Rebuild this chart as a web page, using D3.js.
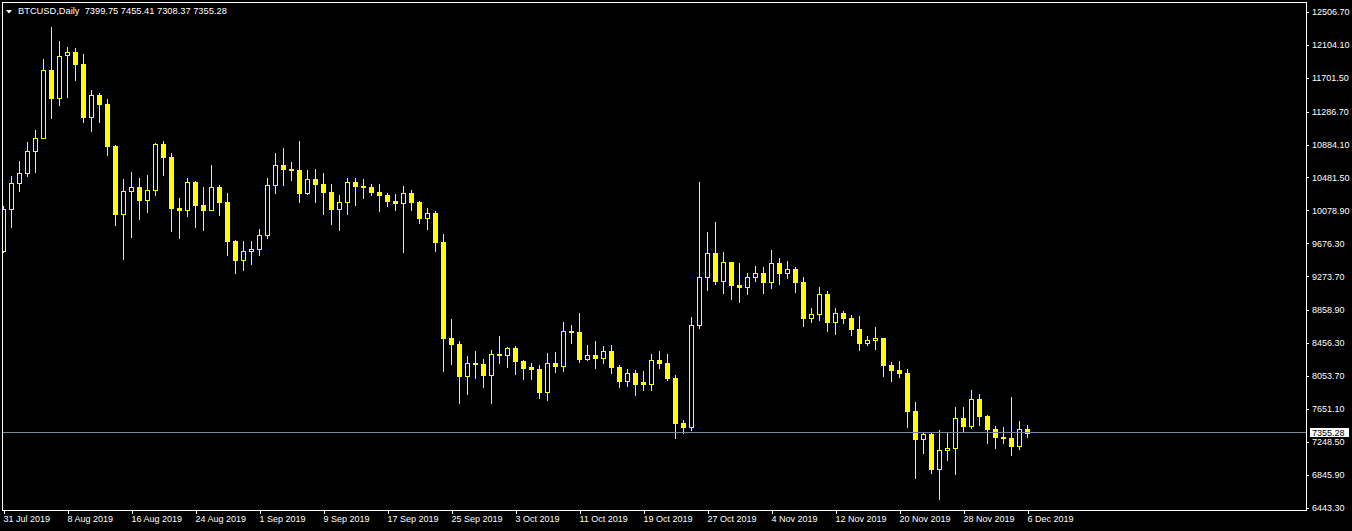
<!DOCTYPE html>
<html>
<head>
<meta charset="utf-8">
<script src="https://cdn.jsdelivr.net/npm/d3@7"></script>
<style>
  html, body { margin: 0; padding: 0; background: #000; }
  svg { display: block; }
  text { font-family: "Liberation Sans", Arial, sans-serif; }
</style>
</head>
<body>
<svg id="chart" width="1352" height="531"></svg>
<script>
// ---------- data ----------
const symbolTitle = "BTCUSD,Daily";
const firstDay = "2019-07-31";
const lastDay = "2019-12-06";

const opens = [9585,10092,10410,10532,10805,10964,11792,11457,11976,12012,11873,11225,11486,11384,10870,10038,10312,10361,10209,10328,10891,10735,10111,10087,10422,10148,10087,10361,10185,9708,9475,9582,9606,9774,10389,10634,10588,10573,10291,10459,10401,10303,10099,10177,10422,10380,10368,10307,10270,10197,10172,10291,10185,9989,10047,9695,8521,8448,8056,8208,8203,8068,8318,8313,8391,8240,8158,8143,7857,8211,8178,8603,8591,8260,8306,8273,8358,8162,7991,8089,7975,7950,8248,8211,8028,7477,7428,8673,9260,9553,9218,9443,9169,9145,9260,9309,9206,9431,9316,9358,9206,8766,8807,9052,8717,8819,8766,8631,8460,8489,8514,8191,8129,8089,7628,7285,7339,6919,7147,7172,7539,7441,7771,7567,7404,7310,7298,7200,7399.75];
const highs = [10132,10499,10683,10915,11062,11931,12322,12151,12077,12065,11992,11551,11515,11441,10875,10462,10548,10475,10511,10903,10927,10781,10230,10475,10438,10365,10634,10385,10291,9715,9704,9704,9851,10475,10781,10842,10670,10927,10573,10585,10536,10401,10267,10475,10475,10462,10398,10401,10291,10279,10377,10328,10195,10108,10071,9790,8750,8477,8297,8358,8257,8370,8542,8407,8419,8245,8211,8187,8334,8346,8713,8676,8823,8432,8481,8419,8432,8187,8138,8126,8114,8322,8358,8322,8065,7514,8774,10426,9814,9936,9569,9450,9435,9309,9394,9382,9594,9496,9459,9382,9260,8884,9141,9092,8884,8844,8795,8786,8542,8652,8520,8224,8236,8138,7734,7371,7359,7392,7355,7673,7673,7881,7832,7575,7441,7428,7795,7502,7455.41];
const lows = [9575,9879,10319,10503,10552,10960,11212,11371,11469,11674,11163,11053,11163,10760,9903,9487,9757,9973,10062,10267,10511,9830,9744,10010,9879,9842,10080,10026,9533,9316,9349,9426,9536,9744,10295,10389,10454,10181,10283,10181,10034,9912,9842,10038,10148,10234,10270,10075,10136,10083,9573,10083,9928,9854,9585,8117,8203,7726,7836,8032,7921,7726,8208,8166,8081,8016,8016,7783,7762,8105,8114,8456,8224,8252,8150,8211,8089,7918,7930,7820,7881,7881,8150,8003,7298,7359,7395,8643,9108,9182,9071,8998,8961,9059,9211,9071,9133,9182,9255,9084,8668,8713,8737,8607,8570,8704,8558,8374,8435,8386,8052,7995,8040,7432,6808,7114,6870,6551,7028,6857,7379,7416,7453,7236,7175,7236,7090,7163,7308.37];
const closes = [10092,10410,10532,10805,10964,11792,11457,11967,12012,11873,11225,11486,11384,10870,10038,10312,10361,10209,10328,10891,10735,10111,10087,10422,10148,10087,10361,10185,9708,9475,9582,9606,9774,10389,10634,10588,10573,10291,10459,10401,10303,10099,10177,10422,10380,10368,10307,10270,10197,10172,10291,10185,9989,10047,9695,8521,8448,8056,8208,8203,8068,8318,8313,8391,8240,8154,8143,7857,8211,8178,8603,8591,8260,8306,8273,8358,8162,7991,8089,7954,7950,8248,8211,8028,7477,7428,8673,9260,9553,9218,9443,9169,9145,9260,9309,9206,9431,9316,9358,9206,8766,8807,9052,8717,8819,8766,8631,8460,8489,8514,8191,8129,8089,7628,7285,7339,6919,7147,7172,7539,7441,7771,7567,7404,7310,7298,7200,7400,7355.28];

const priceTicks = [12506.70,12104.10,11701.50,11286.70,10884.10,10481.50,10078.90,9676.30,9273.70,8858.90,8456.30,8053.70,7651.10,7248.50,6845.90,6443.30];
const dateTickLabels = ["31 Jul 2019","8 Aug 2019","16 Aug 2019","24 Aug 2019","1 Sep 2019","9 Sep 2019","17 Sep 2019","25 Sep 2019","3 Oct 2019","11 Oct 2019","19 Oct 2019","27 Oct 2019","4 Nov 2019","12 Nov 2019","20 Nov 2019","28 Nov 2019","6 Dec 2019"];

// ---------- setup ----------
const parseISO = d3.utcParse("%Y-%m-%d");
const parseLabel = d3.utcParse("%d %b %Y");
const dates = d3.utcDay.range(parseISO(firstDay), d3.utcDay.offset(parseISO(lastDay), 1));
const bars = dates.map((d, i) => ({date: d, o: opens[i], h: highs[i], l: lows[i], c: closes[i]}));

const W = 1352, H = 531;
const frame = {left: 2.5, top: 2.5, right: 1306.5, bottom: 510.5};
const yellow = "#ffff00";

const x = d3.scaleUtc().domain([dates[0], dates[dates.length - 1]]).range([3.5, 1027.5]);
const y = d3.scaleLinear().domain([6443.3, 12506.7]).range([507.5, 11.9]);

const svg = d3.select("#chart");
svg.append("rect").attr("width", W).attr("height", H).attr("fill", "#000");

const plot = svg.append("g");
plot.append("clipPath").attr("id", "clip").append("rect")
  .attr("x", frame.left).attr("y", frame.top)
  .attr("width", frame.right - frame.left).attr("height", frame.bottom - frame.top);

const g = plot.append("g").attr("clip-path", "url(#clip)").attr("shape-rendering", "crispEdges");

// wicks
g.selectAll("line.wick").data(bars).join("line")
  .attr("class", "wick")
  .attr("x1", d => x(d.date)).attr("x2", d => x(d.date))
  .attr("y1", d => Math.round(y(d.h))).attr("y2", d => Math.round(y(d.l)) + 1)
  .attr("stroke", yellow).attr("stroke-width", 1);

// bodies
g.selectAll("rect.body").data(bars).join("rect")
  .attr("class", "body")
  .each(function(d) {
    const cx = x(d.date);
    const top = Math.round(y(Math.max(d.o, d.c)));
    const bot = Math.round(y(Math.min(d.o, d.c)));
    const hgt = Math.max(1, bot - top);
    const sel = d3.select(this);
    if (d.c > d.o) {
      // bullish: hollow body
      sel.attr("x", cx - 2).attr("y", top + 0.5).attr("width", 4).attr("height", Math.max(0, hgt))
        .attr("fill", "#000").attr("stroke", yellow).attr("stroke-width", 1);
    } else {
      sel.attr("x", cx - 2.5).attr("y", top).attr("width", 5).attr("height", Math.max(1, hgt + 1))
        .attr("fill", yellow);
    }
  });

// current price line
const lastClose = closes[closes.length - 1];
const py = Math.floor(y(lastClose)) + 0.5;
svg.append("line")
  .attr("x1", frame.left).attr("x2", frame.right).attr("y1", py).attr("y2", py)
  .attr("stroke", "#778899").attr("stroke-width", 1).attr("shape-rendering", "crispEdges");

// frame
svg.append("rect")
  .attr("x", frame.left).attr("y", frame.top)
  .attr("width", frame.right - frame.left).attr("height", frame.bottom - frame.top)
  .attr("fill", "none").attr("stroke", "#fff").attr("stroke-width", 1)
  .attr("shape-rendering", "crispEdges");

// y axis (right)
const yAxis = d3.axisRight(y).tickValues(priceTicks).tickSize(3).tickPadding(3).tickFormat(d3.format(".2f"));
const ya = svg.append("g").attr("transform", `translate(${frame.right - 0.5},0)`).call(yAxis);
ya.select(".domain").remove();
ya.selectAll("line").attr("stroke", "#fff").attr("shape-rendering", "crispEdges");
ya.selectAll("text").attr("fill", "#fff").attr("font-size", "9px")
  .attr("font-family", "'Liberation Sans', Arial, sans-serif");

// x axis (bottom)
const tickDates = dateTickLabels.map(s => parseLabel(s));
const xAxis = d3.axisBottom(x).tickValues(tickDates).tickSize(4).tickPadding(2).tickFormat(d3.utcFormat("%-d %b %Y"));
const xa = svg.append("g").attr("transform", `translate(0,${frame.bottom - 0.5})`).call(xAxis);
xa.select(".domain").remove();
xa.selectAll("line").attr("stroke", "#fff").attr("shape-rendering", "crispEdges");
xa.selectAll("text").attr("fill", "#fff").attr("font-size", "9px").attr("text-anchor", "start")
  .attr("x", -0.5)
  .attr("font-family", "'Liberation Sans', Arial, sans-serif");

// price label box
const boxG = svg.append("g");
boxG.append("rect").attr("x", 1310).attr("y", py - 4.5).attr("width", 39).attr("height", 9)
  .attr("fill", "#fff").attr("shape-rendering", "crispEdges");
boxG.append("text").attr("x", 1312).attr("y", py + 3.3).attr("fill", "#000").attr("font-size", "9px")
  .text(d3.format(".2f")(lastClose));

// title
svg.append("path").attr("d", "M6,10 L12,10 L9,13.5 Z").attr("fill", "#fff");
const last = bars[bars.length - 1];
svg.append("text").attr("x", 18).attr("y", 14.2).attr("fill", "#fff").attr("font-size", "9.3px")
  .attr("xml:space", "preserve")
  .text(`${symbolTitle}  ${[last.o, last.h, last.l, last.c].map(d3.format(".2f")).join(" ")}`);
</script>
</body>
</html>
